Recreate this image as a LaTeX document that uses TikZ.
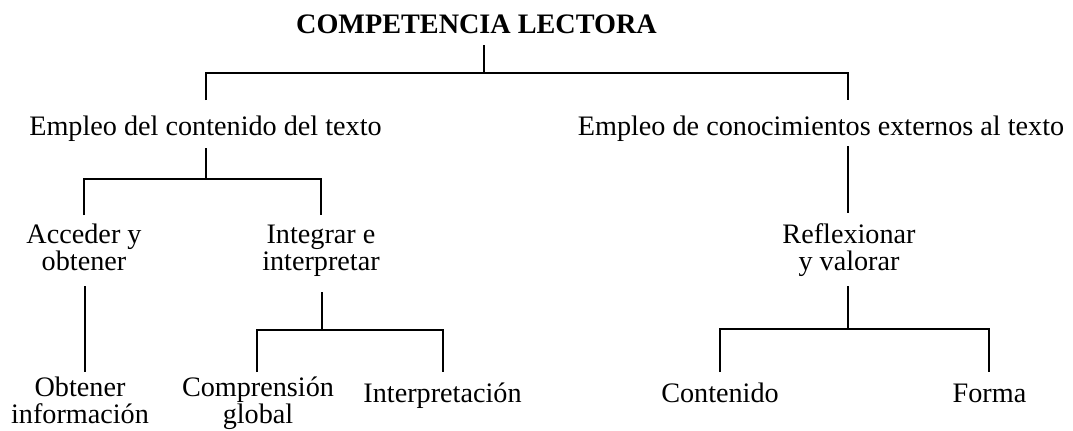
\documentclass[tikz,border=0pt]{standalone}
\usepackage{fontspec}
\setmainfont{Liberation Serif}
\begin{document}
\begin{tikzpicture}[x=0.75pt,y=-0.75pt,
                    every node/.style={inner sep=0pt,anchor=base,align=center},
                    branch/.style={line width=0.065cm}]
                    \useasboundingbox (0,0) rectangle (1073,430);
                    {\fontsize{21.15}{20}\selectfont

                    % Placing title
                    \node (title) at (476.5,33) {\textbf{COMPETENCIA LECTORA}};%

                    % Placing first level
                    \node (cont) at (205.5,135) {Empleo del contenido del texto};%
                    \node (ext) at (821,135) {Empleo de conocimientos externos al texto};%

                    % Placing second level (base is the last line)
                    \node (acc) at (84,270) {Acceder y\\obtener};%
                    \node (int) at (321,270) {Integrar e\\interpretar};%
                    \node (ref) at (849,270) {Reflexionar\\y valorar};%

                    % Placing third level
                    \node (obt) at (80,423) {Obtener\\información};%
                    \node (comp) at (258,423) {Comprensión\\global};%
                    \node (interp) at (442.5,402) {Interpretación};%
                    \node (conten) at (720,402) {Contenido};%
                    \node (forma) at (989.5,402) {Forma};%

                    % Drawing branch title
                    \coordinate (t0) at (484,45);  \coordinate (j0) at (484,73);
                    \coordinate (a0) at (206,100); \coordinate (b0) at (848,100);
                    \draw [branch] (t0) -- (j0);%
                    \draw [branch] (a0) |- (j0) -| (b0);%

                    % Drawing branch cont
                    \coordinate (a1) at (206,148); \coordinate (j1) at (206,179);
                    \coordinate (c0) at (84,215);  \coordinate (d0) at (321,215);
                    \draw [branch] (a1) -- (j1);%
                    \draw [branch] (c0) |- (j1) -| (d0);%

                    % Drawing branch ext
                    \coordinate (b1) at (848,146); \coordinate (e0) at (848,213);
                    \draw [branch] (b1) -- (e0);%

                    % Drawing branch acc
                    \coordinate (c1) at (85,286);  \coordinate (f0) at (85,372);
                    \draw [branch] (c1) -- (f0);%

                    % Drawing branch int
                    \coordinate (d1) at (322,292); \coordinate (j2) at (322,330);
                    \coordinate (g0) at (257,372); \coordinate (h0) at (443,372);
                    \draw [branch] (d1) -- (j2);%
                    \draw [branch] (g0) |- (j2) -| (h0);%

                    % Drawing branch ref
                    \coordinate (e1) at (848,286); \coordinate (j3) at (848,329);
                    \coordinate (k0) at (720,372); \coordinate (m0) at (989,372);
                    \draw [branch] (e1) -- (j3);%
                    \draw [branch] (k0) |- (j3) -| (m0);%
                    }
\end{tikzpicture}
\end{document}
